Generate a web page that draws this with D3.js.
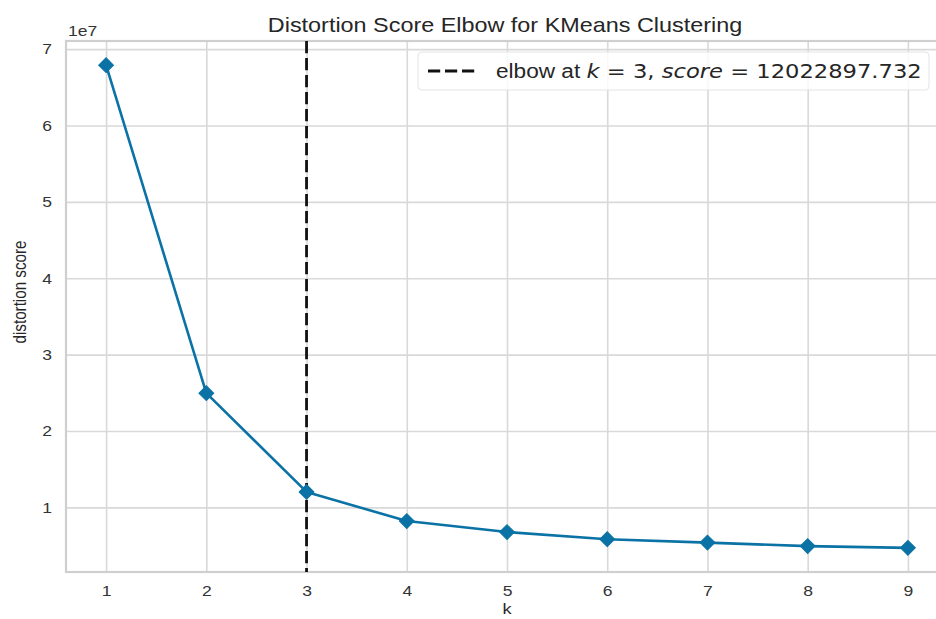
<!DOCTYPE html>
<html>
<head>
<meta charset="utf-8">
<script src="https://cdn.jsdelivr.net/npm/d3@7"></script>
<style>
  html, body { margin: 0; padding: 0; background: #fff; }
  svg { display: block; }
</style>
</head>
<body>
<svg id="chart" width="936" height="619"></svg>
<script>
const kValues = [1, 2, 3, 4, 5, 6, 7, 8, 9];
const distortionScores = [67900000, 24950000, 12022897.732, 8210000, 6770000, 5830000, 5390000, 4930000, 4700000];
const xTickLabels = ["1", "2", "3", "4", "5", "6", "7", "8", "9"];
const yTickValues = [1e7, 2e7, 3e7, 4e7, 5e7, 6e7, 7e7];
const yTickLabels = ["1", "2", "3", "4", "5", "6", "7"];
const elbowK = 3;
const elbowScore = 12022897.732;

const svg = d3.select("#chart");
const W = 936, H = 619;
const plot = { left: 66, right: 948, top: 41, bottom: 572 };
const SX = 1.17; // horizontal stretch of text glyphs seen in the reference
const sansFont = "'Liberation Sans', Arial, Helvetica, sans-serif";
const mathFont = "'DejaVu Sans', sans-serif";
const gridColor = "#d9d9d9";
const textColor = "#333333";
const lineColor = "#0b72a6";
const dash = "12.2,4.8";

const xMin = d3.min(kValues), xMax = d3.max(kValues);
const xm = (xMax - xMin) * 0.05;
const x = d3.scaleLinear().domain([xMin - xm, xMax + xm]).range([plot.left, plot.right]);
const yMin = d3.min(distortionScores), yMax = d3.max(distortionScores);
const ym = (yMax - yMin) * 0.05;
const y = d3.scaleLinear().domain([yMin - ym, yMax + ym]).range([plot.bottom, plot.top]);

svg.append("rect").attr("width", W).attr("height", H).attr("fill", "#fff");

// grid + x ticks
const gx = svg.append("g").attr("transform", `translate(0,${plot.bottom})`)
  .call(d3.axisBottom(x).tickValues(kValues).tickFormat((d, i) => xTickLabels[i])
    .tickSize(-(plot.bottom - plot.top)).tickPadding(13));
gx.select(".domain").remove();
gx.selectAll(".tick line").attr("stroke", gridColor).attr("stroke-width", 1.6);
gx.selectAll(".tick text").attr("font-family", sansFont).attr("font-size", 15)
  .attr("fill", textColor).attr("transform", `scale(${SX},1)`);

const gy = svg.append("g").attr("transform", `translate(${plot.left},0)`)
  .call(d3.axisLeft(y).tickValues(yTickValues).tickFormat((d, i) => yTickLabels[i])
    .tickSize(-(plot.right - plot.left)).tickPadding(12));
gy.select(".domain").remove();
gy.selectAll(".tick line").attr("stroke", gridColor).attr("stroke-width", 1.6);
gy.selectAll(".tick text").attr("font-family", sansFont).attr("font-size", 15)
  .attr("fill", textColor).attr("transform", `scale(${SX},1)`);

// spines
svg.append("rect").attr("x", plot.left).attr("y", plot.top)
  .attr("width", plot.right - plot.left).attr("height", plot.bottom - plot.top)
  .attr("fill", "none").attr("stroke", "#cfcfcf").attr("stroke-width", 2.2);

// offset text
svg.append("text").attr("transform", `translate(${plot.left + 2},${plot.top - 5}) scale(${SX},1)`)
  .attr("font-family", sansFont).attr("font-size", 15).attr("fill", textColor).text("1e7");

// series line
const pts = kValues.map((k, i) => [k, distortionScores[i]]);
svg.append("path").datum(pts)
  .attr("fill", "none").attr("stroke", lineColor).attr("stroke-width", 2.6)
  .attr("stroke-linejoin", "round")
  .attr("d", d3.line().x(d => x(d[0])).y(d => y(d[1])));

// elbow line
svg.append("line").attr("x1", x(elbowK)).attr("x2", x(elbowK))
  .attr("y1", plot.top).attr("y2", plot.bottom)
  .attr("stroke", "#111").attr("stroke-width", 2.8).attr("stroke-dasharray", dash);

// markers
const diamond = d3.symbol().type(d3.symbolSquare).size(110);
svg.selectAll("path.mk").data(pts).enter().append("path").attr("class", "mk")
  .attr("d", diamond)
  .attr("transform", d => `translate(${x(d[0])},${y(d[1])}) rotate(45)`)
  .attr("fill", lineColor).attr("stroke", lineColor).attr("stroke-width", 1);

// title
svg.append("text").attr("transform", `translate(505,31.5) scale(${SX},1)`)
  .attr("text-anchor", "middle").attr("font-family", sansFont).attr("font-size", 20)
  .attr("fill", "#262626").text("Distortion Score Elbow for KMeans Clustering");

// axis labels
svg.append("text").attr("transform", `translate(507,614) scale(${SX},1)`)
  .attr("text-anchor", "middle").attr("font-family", sansFont).attr("font-size", 15.5)
  .attr("fill", "#262626").text("k");
svg.append("text").attr("transform", `translate(25.5,292) scale(${SX},1) rotate(-90)`)
  .attr("text-anchor", "middle").attr("font-family", sansFont).attr("font-size", 15.2)
  .attr("fill", "#262626").text("distortion score");

// legend
const lg = svg.append("g");
lg.append("rect").attr("x", 418).attr("y", 52).attr("width", 511).attr("height", 38)
  .attr("rx", 4).attr("fill", "#fff").attr("fill-opacity", 0.8)
  .attr("stroke", "#e4e4e4").attr("stroke-width", 1);
lg.append("line").attr("x1", 428).attr("x2", 476).attr("y1", 71).attr("y2", 71)
  .attr("stroke", "#111").attr("stroke-width", 2.8).attr("stroke-dasharray", dash);
const lt = lg.append("text").attr("transform", `translate(496,78) scale(1.16,1)`)
  .attr("font-size", 19.5).attr("fill", "#262626");
lt.append("tspan").attr("font-family", sansFont).text("elbow at ");
lt.append("tspan").attr("font-family", mathFont).attr("font-style", "italic").text("k");
lt.append("tspan").attr("font-family", mathFont).text(" = " + elbowK + ", ");
lt.append("tspan").attr("font-family", mathFont).attr("font-style", "italic").text("score");
lt.append("tspan").attr("font-family", mathFont).text(" = " + d3.format(".3f")(elbowScore));
</script>
</body>
</html>
